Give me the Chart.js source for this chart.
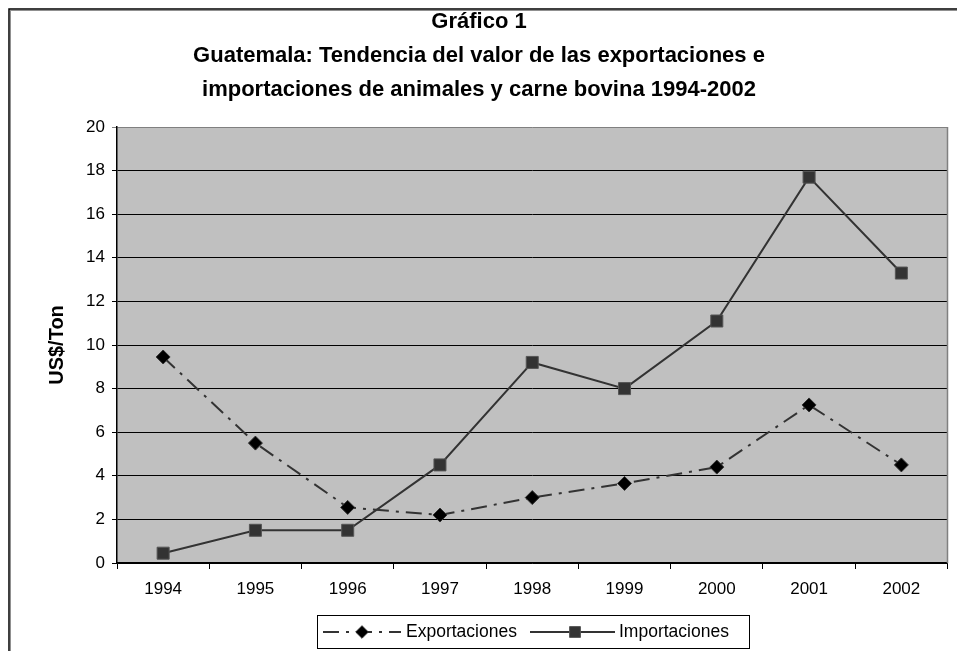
<!DOCTYPE html>
<html>
<head>
<meta charset="utf-8">
<script src="https://cdn.jsdelivr.net/npm/chart.js@4.4.1/dist/chart.umd.min.js"></script>
<style>
  html, body { margin: 0; padding: 0; background: #fff; }
  #wrap { position: absolute; left: 0; top: 0; width: 957px; height: 651px; }
</style>
</head>
<body>
<div id="wrap"><canvas id="chart" width="957" height="651"></canvas></div>
<script>
const years = ['1994', '1995', '1996', '1997', '1998', '1999', '2000', '2001', '2002'];
const exportaciones = [9.45, 5.5, 2.55, 2.2, 3.0, 3.65, 4.4, 7.25, 4.5];
const importaciones = [0.45, 1.5, 1.5, 4.5, 9.2, 8.0, 11.1, 17.7, 13.3];
const yTicks = [0, 2, 4, 6, 8, 10, 12, 14, 16, 18, 20];
const titleLines = ['Gráfico 1',
    'Guatemala: Tendencia del valor de las exportaciones e',
    'importaciones de animales y carne bovina 1994-2002'];
const yTitle = 'US$/Ton';

const FONT = '"Liberation Sans", Arial, sans-serif';
Chart.defaults.font.family = FONT;
Chart.defaults.color = '#000';

// plot background + frame, titles, legend
const decor = {
    id: 'decor',
    beforeDraw(chart) {
        const c = chart.ctx, a = chart.chartArea;
        c.save();
        c.fillStyle = '#fff';
        c.fillRect(0, 0, chart.width, chart.height);
        c.fillStyle = '#C0C0C0';
        c.fillRect(a.left, a.top, a.right - a.left, a.bottom - a.top);
        c.restore();
    },
    afterDraw(chart) {
        const c = chart.ctx, a = chart.chartArea;
        c.save();
        // right border of plot
        c.strokeStyle = '#808080';
        c.lineWidth = 1.5;
        c.beginPath();
        c.moveTo(a.right, a.top); c.lineTo(a.right, a.bottom);
        c.stroke();

        // outer frame
        c.strokeStyle = '#909090';
        c.lineWidth = 1;
        c.strokeRect(10.5, 10.5, 980, 700);
        c.strokeStyle = '#000';
        c.lineWidth = 1.5;
        c.strokeRect(9, 9, 980, 700);

        // titles
        c.fillStyle = '#000';
        c.textAlign = 'center';
        c.textBaseline = 'middle';
        c.font = 'bold 22px ' + FONT;
        const ty = [22, 56, 90];
        titleLines.forEach((t, i) => c.fillText(t, 479, ty[i]));

        // y axis title
        c.save();
        c.translate(57, (a.top + a.bottom) / 2);
        c.rotate(-Math.PI / 2);
        c.font = 'bold 20px ' + FONT;
        c.fillText(yTitle, 0, 0);
        c.restore();

        // legend
        c.strokeStyle = '#000';
        c.lineWidth = 1;
        c.strokeRect(317.5, 615.5, 432, 33);
        const ly = 632;
        const items = [
            { ds: chart.data.datasets[0], x0: 323, x1: 401, mx: 362, tx: 406 },
            { ds: chart.data.datasets[1], x0: 530, x1: 615, mx: 575, tx: 619 }
        ];
        items.forEach(it => {
            const ds = it.ds;
            c.save();
            c.strokeStyle = ds.borderColor;
            c.lineWidth = ds.borderWidth;
            c.setLineDash(ds.borderDash || []);
            c.beginPath();
            c.moveTo(it.x0, ly); c.lineTo(it.x1, ly);
            c.stroke();
            c.restore();
            c.save();
            c.fillStyle = ds.pointBackgroundColor;
            c.strokeStyle = ds.pointBorderColor;
            c.lineWidth = ds.pointBorderWidth;
            Chart.helpers.drawPoint(c, { pointStyle: ds.pointStyle, radius: ds.pointRadius * 0.9, borderWidth: ds.pointBorderWidth, rotation: 0 }, it.mx, ly);
            c.restore();
            c.fillStyle = '#000';
            c.textAlign = 'left';
            c.textBaseline = 'middle';
            c.font = '17.5px ' + FONT;
            c.fillText(ds.label, it.tx, ly);
        });
        c.restore();
    }
};

new Chart(document.getElementById('chart'), {
    type: 'line',
    data: {
        labels: years,
        datasets: [{
            label: 'Exportaciones',
            data: exportaciones,
            borderColor: '#333333',
            borderWidth: 2,
            borderDash: [16, 7, 3, 7],
            pointStyle: 'rectRot',
            pointRadius: 7,
            pointHoverRadius: 7,
            pointBackgroundColor: '#000000',
            pointBorderColor: '#333333',
            pointBorderWidth: 1,
            tension: 0
        }, {
            label: 'Importaciones',
            data: importaciones,
            borderColor: '#333333',
            borderWidth: 2,
            pointStyle: 'rect',
            pointRadius: 8.5,
            pointHoverRadius: 8.5,
            pointBackgroundColor: '#333333',
            pointBorderColor: '#555555',
            pointBorderWidth: 1,
            tension: 0
        }]
    },
    options: {
        responsive: false,
        animation: false,
        events: [],
        layout: { padding: { top: 127, left: 0, right: 5, bottom: 48 } },
        plugins: {
            legend: { display: false },
            title: { display: false },
            tooltip: { enabled: false }
        },
        scales: {
            x: {
                offset: true,
                grid: { offset: true, drawOnChartArea: false, drawTicks: true, tickLength: 6, color: '#000', lineWidth: 1 },
                border: { color: '#000', width: 1.5 },
                ticks: { font: { size: 17 }, color: '#000', padding: 10, maxRotation: 0 },
                afterFit(s) { s.height = 40; s.paddingLeft = 0; s.paddingRight = 0; }
            },
            y: {
                min: 0, max: 20,
                afterBuildTicks(s) { s.ticks = yTicks.map(v => ({ value: v })); },
                grid: {
                    color: ctx => (ctx.tick && ctx.tick.value === 20) ? '#808080' : '#000',
                    lineWidth: 1, tickLength: 5
                },
                border: { color: '#000', width: 1.5 },
                ticks: { font: { size: 17 }, color: '#000', padding: 7 },
                afterFit(s) { s.width = 117; s.paddingTop = 0; s.paddingBottom = 0; }
            }
        }
    },
    plugins: [decor]
});
</script>
</body>
</html>
